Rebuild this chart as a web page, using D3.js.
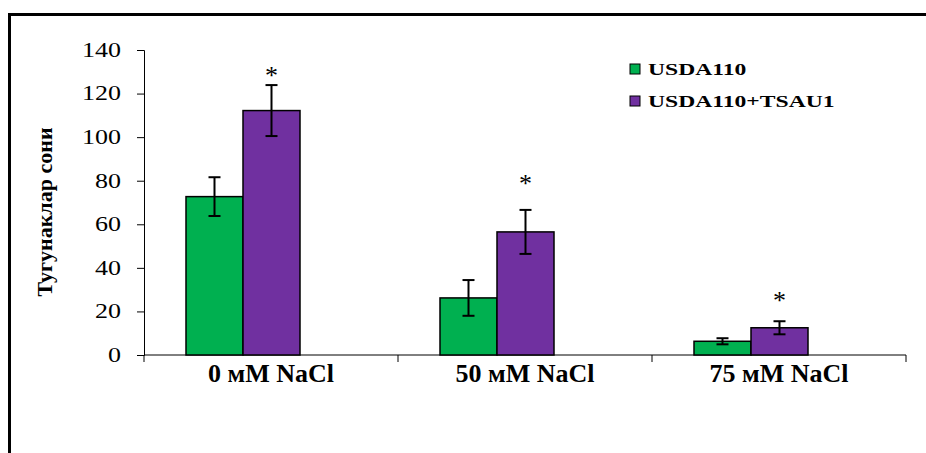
<!DOCTYPE html>
<html>
<head>
<meta charset="utf-8">
<script src="https://cdn.jsdelivr.net/npm/d3@7"></script>
<style>
  body { margin: 0; background: #fff; }
  svg { display: block; }
  .tick line, .domain { stroke: #000; }
</style>
</head>
<body>
<div id="chart"></div>
<script>
// data
var categories = ["0 мМ NaCl", "50 мМ NaCl", "75 мМ NaCl"];
var seriesNames = ["USDA110", "USDA110+TSAU1"];
var usda110 = [72.7, 26.2, 6.3];
var usda110Err = [8.9, 8.2, 1.4];
var usdaTsau1 = [112.2, 56.5, 12.5];
var usdaTsau1Err = [11.7, 10.1, 3.0];
var starLevel = [130, 80.5, 26.5];   // where the "*" marks sit
var yTicks = [0, 20, 40, 60, 80, 100, 120, 140];
var colors = ["#00B050", "#7030A0"];

var svgWidth = 926;
var svgHeight = 453;

var margin = { top: 50, right: 20, bottom: 98, left: 144 };
var height = svgHeight - margin.top - margin.bottom;   // 305
var width = 762;

var svg = d3.select("#chart")
    .append("svg")
    .attr("width", svgWidth)
    .attr("height", svgHeight);

// outer frame (only top and left visible)
svg.append("rect")
    .attr("x", 9.5)
    .attr("y", 14.5)
    .attr("width", 2000)
    .attr("height", 2000)
    .attr("fill", "none")
    .attr("stroke", "#000")
    .attr("stroke-width", 3);

var chartGroup = svg.append("g")
    .attr("transform", `translate(${margin.left}, ${margin.top})`);

// scales
var x0 = d3.scaleBand()
    .domain(categories)
    .range([0, width]);

// bar pair sits left of the band centre, like the original
var x1 = d3.scaleBand()
    .domain(seriesNames)
    .range([42, 156]);

var y = d3.scaleLinear()
    .domain([0, 140])
    .range([height, 0]);

// rows for the bars
var rows = [];
categories.forEach(function(c, i) {
    rows.push({ cat: c, s: seriesNames[0], v: usda110[i], e: usda110Err[i], col: colors[0] });
    rows.push({ cat: c, s: seriesNames[1], v: usdaTsau1[i], e: usdaTsau1Err[i], col: colors[1] });
});

// axes
var leftAxis = d3.axisLeft(y)
    .tickValues(yTicks)
    .tickSize(7)
    .tickPadding(0)
    .tickFormat(d3.format("d"));

var yAxisG = chartGroup.append("g").call(leftAxis);
yAxisG.select(".domain").attr("stroke-width", 1);
yAxisG.selectAll("text")
    .attr("font-family", "'Liberation Serif', 'Times New Roman', serif")
    .attr("font-size", "20px")
    .attr("fill", "#000")
    .attr("x", -23 / 1.3)
    .attr("transform", "scale(1.3,1)");

var bottomAxis = d3.axisBottom(x0)
    .tickSize(0)
    .tickPadding(9);

var xAxisG = chartGroup.append("g")
    .attr("transform", `translate(0, ${height})`)
    .call(bottomAxis);
xAxisG.select(".domain").remove();
xAxisG.append("line")
    .attr("x1", 0).attr("x2", width)
    .attr("stroke", "#000");
xAxisG.selectAll(".edge")
    .data(d3.range(categories.length + 1))
    .enter()
    .append("line")
    .attr("class", "edge")
    .attr("x1", d => d * x0.step())
    .attr("x2", d => d * x0.step())
    .attr("y1", 0).attr("y2", 7)
    .attr("stroke", "#000");
xAxisG.selectAll("text")
    .attr("font-family", "'Liberation Serif', 'Times New Roman', serif")
    .attr("font-weight", "bold")
    .attr("font-size", "26px")
    .attr("fill", "#000");

// bars
chartGroup.selectAll("rect.bar")
    .data(rows)
    .enter()
    .append("rect")
    .attr("class", "bar")
    .attr("x", d => x0(d.cat) + x1(d.s))
    .attr("y", d => y(d.v))
    .attr("width", x1.bandwidth())
    .attr("height", d => height - y(d.v))
    .attr("fill", d => d.col)
    .attr("stroke", "#000")
    .attr("stroke-width", 1.5);

// error bars
var errG = chartGroup.selectAll("g.err")
    .data(rows)
    .enter()
    .append("g")
    .attr("class", "err")
    .attr("transform", d => `translate(${x0(d.cat) + x1(d.s) + x1.bandwidth() / 2}, 0)`);

errG.append("line")
    .attr("y1", d => y(d.v + d.e))
    .attr("y2", d => y(d.v - d.e))
    .attr("stroke", "#000")
    .attr("stroke-width", 2);
errG.append("line")
    .attr("x1", -6).attr("x2", 6)
    .attr("y1", d => y(d.v + d.e))
    .attr("y2", d => y(d.v + d.e))
    .attr("stroke", "#000")
    .attr("stroke-width", 2);
errG.append("line")
    .attr("x1", -6).attr("x2", 6)
    .attr("y1", d => y(d.v - d.e))
    .attr("y2", d => y(d.v - d.e))
    .attr("stroke", "#000")
    .attr("stroke-width", 2);

// significance stars
chartGroup.selectAll("text.star")
    .data(categories)
    .enter()
    .append("text")
    .attr("class", "star")
    .attr("x", d => x0(d) + x1(seriesNames[1]) + x1.bandwidth() / 2)
    .attr("y", (d, i) => y(starLevel[i]) + 12)
    .attr("text-anchor", "middle")
    .attr("font-family", "'Liberation Serif', 'Times New Roman', serif")
    .attr("font-size", "26px")
    .text("*");

// y axis title
svg.append("text")
    .attr("transform", "translate(52, 212) rotate(-90)")
    .attr("text-anchor", "middle")
    .attr("font-family", "'Liberation Serif', 'Times New Roman', serif")
    .attr("font-weight", "bold")
    .attr("font-size", "22px")
    .text("Тугунаклар сони");

// legend
var legend = svg.append("g")
    .selectAll("g")
    .data(seriesNames)
    .enter()
    .append("g")
    .attr("transform", (d, i) => `translate(630, ${64 + i * 32})`);

legend.append("rect")
    .attr("width", 10)
    .attr("height", 10)
    .attr("fill", (d, i) => colors[i])
    .attr("stroke", "#000")
    .attr("stroke-width", 1);

legend.append("text")
    .attr("transform", "translate(18, 11) scale(1.35,1)")
    .attr("font-family", "'Liberation Serif', 'Times New Roman', serif")
    .attr("font-weight", "bold")
    .attr("font-size", "17.5px")
    .text(d => d);
</script>
</body>
</html>
